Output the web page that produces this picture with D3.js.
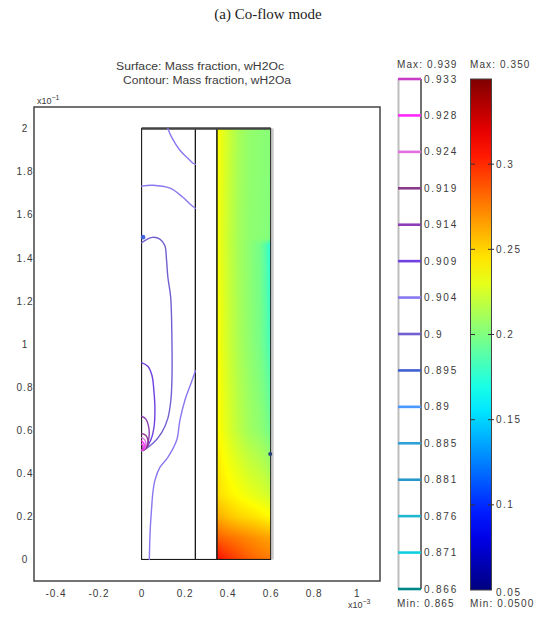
<!DOCTYPE html>
<html><head><meta charset="utf-8">
<script src="https://cdn.jsdelivr.net/npm/d3@7"></script>
<style>
body{margin:0;background:#fff}
svg{display:block}
text{font-family:"Liberation Sans",Arial,sans-serif;fill:#3a3a3a}
</style>
</head><body><script>
// ---------------- data ----------------
const titleText = "(a) Co-flow mode";
const subtitle1 = "Surface: Mass fraction, wH2Oc";
const subtitle2 = "Contour: Mass fraction, wH2Oa";
const xTicks = [-0.4, -0.2, 0, 0.2, 0.4, 0.6, 0.8, 1];
const yTicks = [0, 0.2, 0.4, 0.6, 0.8, 1, 1.2, 1.4, 1.6, 1.8, 2];
const xDomain = [-0.5, 1.108];
const yDomain = [-0.1, 2.1];
const subdomainsX = [[0, 0.25], [0.25, 0.35], [0.35, 0.6]];
const subdomainY = [0, 2];
const contourLevels = [0.933, 0.928, 0.924, 0.919, 0.914, 0.909, 0.904, 0.9, 0.895, 0.89, 0.885, 0.881, 0.876, 0.871, 0.866];
const contourMax = "0.939", contourMin = "0.865";
const surfaceTicks = [0.05, 0.1, 0.15, 0.2, 0.25, 0.3];
const surfaceRange = [0.05, 0.35];
const surfaceMax = "0.350", surfaceMin = "0.0500";
// surface (wH2Oc) samples, cathode channel
const gridX = [0.35, 0.40, 0.45, 0.50, 0.55, 0.58, 0.60];
const gridY = [0, 0.1, 0.2, 0.3, 0.6, 1.0, 1.46, 1.49, 2.0];
const gridV = [
  [0.310, 0.300, 0.292, 0.285, 0.280, 0.278, 0.277],
  [0.285, 0.280, 0.276, 0.272, 0.268, 0.266, 0.265],
  [0.262, 0.255, 0.250, 0.247, 0.243, 0.240, 0.238],
  [0.248, 0.242, 0.237, 0.232, 0.228, 0.225, 0.222],
  [0.240, 0.228, 0.218, 0.210, 0.205, 0.200, 0.195],
  [0.238, 0.224, 0.213, 0.205, 0.198, 0.190, 0.182],
  [0.236, 0.222, 0.211, 0.204, 0.197, 0.186, 0.172],
  [0.236, 0.222, 0.211, 0.205, 0.203, 0.202, 0.200],
  [0.238, 0.224, 0.212, 0.206, 0.204, 0.203, 0.203]
];
// contour lines (wH2Oa) in the anode channel
const contourA = {level: 0.904, pts: [[0.122,2.0],[0.139,1.961],[0.178,1.899],[0.215,1.862],[0.239,1.839],[0.25,1.834]]};
const contourB = {level: 0.904, pts: [[0,1.733],[0.052,1.737],[0.132,1.723],[0.192,1.681],[0.232,1.644],[0.25,1.63]]};
const contourC = {level: 0.9, pts: [[0,1.47],[0.023,1.485],[0.05,1.495],[0.085,1.487],[0.108,1.457],[0.116,1.389],[0.122,1.311],[0.135,1.219],[0.141,1.018],[0.141,0.832],[0.136,0.739],[0.122,0.655],[0.094,0.59],[0.053,0.539],[0.015,0.511],[0,0.505]]};
const contourD = {level: 0.909, pts: [[0,0.914],[0.029,0.897],[0.048,0.855],[0.057,0.786],[0.062,0.693],[0.057,0.609],[0.043,0.554],[0.02,0.517],[0,0.505]]};
const contourE = {level: 0.914, pts: [[0,0.665],[0.02,0.651],[0.034,0.609],[0.034,0.563],[0.02,0.521],[0,0.507]]};
const contourF = {level: 0.904, pts: [[0.25,0.875],[0.232,0.824],[0.201,0.738],[0.178,0.646],[0.163,0.553],[0.122,0.474],[0.085,0.427],[0.062,0.367],[0.052,0.306],[0.046,0.229],[0.04,0.136],[0.036,0]]};
const contourG = {level: 0.919, pts: [[0,0.585],[0.02,0.575],[0.03,0.55],[0.025,0.52],[0.008,0.505]]};
const contourH = {level: 0.924, pts: [[0,0.565],[0.015,0.555],[0.02,0.53],[0.01,0.51],[0,0.505]]};
const contourI = {level: 0.928, pts: [[0,0.55],[0.01,0.54],[0.012,0.52],[0.003,0.507]]};
const contourJ = {level: 0.933, pts: [[0,0.535],[0.006,0.525],[0.005,0.512],[0,0.507]]};
const markerWall = [0, 1.496];
const markerSpot = [0.598, 0.49];

// ---------------- styles ----------------
const levelColors = ["#c83cc8","#ff28ff","#e070e0","#8a3c8a","#8c3cb4","#7040e0","#8878f0","#7060d0",
                     "#4060d0","#4898ff","#30a0d8","#2898c8","#20b8d0","#10d0e0","#008888"];
const colorOfLevel = lv => levelColors[contourLevels.indexOf(lv)];

function jet(t){
  const c = v => Math.max(0, Math.min(1, v));
  return [c(1.5 - Math.abs(4*t - 3)), c(1.5 - Math.abs(4*t - 2)), c(1.5 - Math.abs(4*t - 1))];
}

// ---------------- chart ----------------
const W = 536, H = 621;
const svg = d3.select("body").append("svg").attr("width", W).attr("height", H);

const x = d3.scaleLinear().domain(xDomain).range([34, 380]);
const y = d3.scaleLinear().domain(yDomain).range([581, 107]);

// title
svg.append("text").attr("x", 268).attr("y", 19).attr("text-anchor", "middle")
  .style("font-family", "'Liberation Serif','Times New Roman',serif").style("font-size", "15px").style("fill", "#222")
  .text(titleText);
svg.append("text").attr("x", 200).attr("y", 70).attr("text-anchor", "middle")
  .style("font-size", "10px").attr("textLength", 168).attr("lengthAdjust", "spacingAndGlyphs").text(subtitle1);
svg.append("text").attr("x", 207).attr("y", 84).attr("text-anchor", "middle")
  .style("font-size", "10px").attr("textLength", 168).attr("lengthAdjust", "spacingAndGlyphs").text(subtitle2);

// surface raster
const sx0 = x(subdomainsX[2][0]), sx1 = x(subdomainsX[2][1]);
const sy0 = y(subdomainY[1]), sy1 = y(subdomainY[0]);
const cw = Math.round(sx1 - sx0), ch = Math.round(sy1 - sy0);
const canvas = document.createElement("canvas");
canvas.width = cw; canvas.height = ch;
const ctx = canvas.getContext("2d");
const img = ctx.createImageData(cw, ch);
function interp(xd, yd){
  const clamp = (v, a, b) => Math.max(a, Math.min(b, v));
  const ix = clamp(d3.bisectRight(gridX, xd) - 1, 0, gridX.length - 2);
  const iy = clamp(d3.bisectRight(gridY, yd) - 1, 0, gridY.length - 2);
  const tx = clamp((xd - gridX[ix]) / (gridX[ix+1] - gridX[ix]), 0, 1);
  const ty = clamp((yd - gridY[iy]) / (gridY[iy+1] - gridY[iy]), 0, 1);
  const a = gridV[iy][ix]*(1-tx) + gridV[iy][ix+1]*tx;
  const b = gridV[iy+1][ix]*(1-tx) + gridV[iy+1][ix+1]*tx;
  return a*(1-ty) + b*ty;
}
const tScale = d3.scaleLinear().domain(surfaceRange).range([0, 1]).clamp(true);
for (let j = 0; j < ch; j++){
  for (let i = 0; i < cw; i++){
    const xd = x.invert(sx0 + (i + 0.5) * (sx1 - sx0) / cw);
    const yd = y.invert(sy0 + (j + 0.5) * (sy1 - sy0) / ch);
    const rgb = jet(tScale(interp(xd, yd)));
    const k = (j*cw + i) * 4;
    img.data[k] = rgb[0]*255; img.data[k+1] = rgb[1]*255; img.data[k+2] = rgb[2]*255; img.data[k+3] = 255;
  }
}
ctx.putImageData(img, 0, 0);
svg.append("image").attr("x", sx0).attr("y", sy0).attr("width", sx1 - sx0).attr("height", sy1 - sy0)
  .attr("preserveAspectRatio", "none").attr("href", canvas.toDataURL());

// gray shadow right of geometry
svg.append("line").attr("x1", sx1 + 2).attr("x2", sx1 + 2).attr("y1", sy0).attr("y2", sy1)
  .attr("stroke", "#c8c8c8").attr("stroke-width", 2);

// subdomain outlines
svg.append("g").selectAll("rect").data(subdomainsX).join("rect")
  .attr("x", d => x(d[0])).attr("y", y(subdomainY[1]))
  .attr("width", d => x(d[1]) - x(d[0])).attr("height", y(subdomainY[0]) - y(subdomainY[1]))
  .attr("fill", "none").attr("stroke", "#1a1a1a").attr("stroke-width", 1.1);
svg.append("line").attr("x1", x(subdomainsX[0][0])).attr("x2", x(subdomainsX[2][1]))
  .attr("y1", y(subdomainY[1])).attr("y2", y(subdomainY[1]))
  .attr("stroke", "#444").attr("stroke-width", 2.6);

// contour lines
const contours = [contourA, contourB, contourC, contourD, contourE, contourF, contourG, contourH, contourI, contourJ];
const line = d3.line().x(d => x(d[0])).y(d => y(d[1])).curve(d3.curveCatmullRom.alpha(0.5));
svg.append("g").selectAll("path").data(contours).join("path")
  .attr("d", d => line(d.pts)).attr("fill", "none")
  .attr("stroke", d => colorOfLevel(d.level)).attr("stroke-width", 1.4).attr("stroke-linecap", "round");
svg.append("circle").attr("cx", x(markerWall[0]) + 1.5).attr("cy", y(markerWall[1])).attr("r", 2.3).attr("fill", "#4466dd");
svg.append("circle").attr("cx", x(markerSpot[0])).attr("cy", y(markerSpot[1])).attr("r", 2).attr("fill", "#28407a");

// plot frame
svg.append("rect").attr("x", x(xDomain[0])).attr("y", y(yDomain[1]))
  .attr("width", x(xDomain[1]) - x(xDomain[0])).attr("height", y(yDomain[0]) - y(yDomain[1]))
  .attr("fill", "none").attr("stroke", "#444").attr("stroke-width", 1.5);

// axes
const fmt = d => String(d);
const xAxis = svg.append("g").attr("transform", `translate(0,${y(yDomain[0])})`)
  .call(d3.axisBottom(x).tickValues(xTicks).tickFormat(fmt).tickSize(0).tickPadding(9));
const yAxis = svg.append("g").attr("transform", `translate(${x(xDomain[0])},0)`)
  .call(d3.axisLeft(y).tickValues(yTicks).tickFormat(fmt).tickSize(0).tickPadding(9));
[xAxis, yAxis].forEach(g => {
  g.select(".domain").remove();
  g.selectAll("text").attr("font-family", null).attr("font-size", null)
    .style("font-size", "10px").style("letter-spacing", "1px").style("fill", "#3a3a3a");
});
yAxis.selectAll("text").attr("text-anchor", "middle").attr("x", -9);

function mult(xp, yp, exp){
  const t = svg.append("text").attr("x", xp).attr("y", yp).style("font-size", "9px");
  t.append("tspan").text("x10");
  t.append("tspan").attr("dy", -4).style("font-size", "7px").text(exp);
}
mult(37, 104, "−1");
mult(348, 608, "−3");

// contour legend
const ly = d3.scalePoint().domain(contourLevels).range([79, 589]);
const leg1 = svg.append("g");
leg1.append("line").attr("x1", 398.5).attr("x2", 398.5).attr("y1", 79).attr("y2", 589).attr("stroke", "#bdbdbd").attr("stroke-width", 2);
leg1.append("line").attr("x1", 421).attr("x2", 421).attr("y1", 79).attr("y2", 589).attr("stroke", "#333").attr("stroke-width", 1.4);
leg1.selectAll("line.lv").data(contourLevels).join("line").attr("class", "lv")
  .attr("x1", 398).attr("x2", 421).attr("y1", d => ly(d)).attr("y2", d => ly(d))
  .attr("stroke", d => colorOfLevel(d)).attr("stroke-width", 2.6);
leg1.selectAll("text").data(contourLevels).join("text")
  .attr("x", 424).attr("y", d => ly(d) + 3.5)
  .style("font-size", "10px").style("letter-spacing", "1.8px").text(d => String(d));
svg.append("text").attr("x", 397).attr("y", 68).style("font-size", "10px").style("letter-spacing", "1.1px").text("Max: " + contourMax);
svg.append("text").attr("x", 397).attr("y", 607).style("font-size", "10px").style("letter-spacing", "1.1px").text("Min: " + contourMin);

// surface legend
const sy = d3.scaleLinear().domain(surfaceRange).range([590, 79]);
const defs = svg.append("defs");
const grad = defs.append("linearGradient").attr("id", "jetgrad").attr("x1", 0).attr("y1", 1).attr("x2", 0).attr("y2", 0);
grad.selectAll("stop").data(d3.range(0, 1.0001, 0.05)).join("stop")
  .attr("offset", d => d)
  .attr("stop-color", d => { const c = jet(d); return d3.rgb(c[0]*255, c[1]*255, c[2]*255).formatHex(); });
svg.append("rect").attr("x", 470.5).attr("y", sy(surfaceRange[1])).attr("width", 21)
  .attr("height", sy(surfaceRange[0]) - sy(surfaceRange[1]))
  .attr("fill", "url(#jetgrad)").attr("stroke", "#444").attr("stroke-width", 1);
const leg2 = svg.append("g");
const inner = surfaceTicks.filter(d => d > surfaceRange[0]);
leg2.selectAll("line.l").data(inner).join("line").attr("class", "l")
  .attr("x1", 471).attr("x2", 475).attr("y1", d => sy(d)).attr("y2", d => sy(d)).attr("stroke", "#333").attr("stroke-width", 1);
leg2.selectAll("line.r").data(inner).join("line").attr("class", "r")
  .attr("x1", 488).attr("x2", 494).attr("y1", d => sy(d)).attr("y2", d => sy(d)).attr("stroke", "#333").attr("stroke-width", 1);
leg2.selectAll("text").data(surfaceTicks).join("text")
  .attr("x", 496).attr("y", d => sy(d) + (d === surfaceRange[0] ? 6 : 3.5))
  .style("font-size", "10px").style("letter-spacing", "1.5px").text(d => String(d));
svg.append("text").attr("x", 470).attr("y", 68).style("font-size", "10px").style("letter-spacing", "1.1px").text("Max: " + surfaceMax);
svg.append("text").attr("x", 470).attr("y", 607).style("font-size", "10px").style("letter-spacing", "1.1px").text("Min: " + surfaceMin);
</script></body></html>
